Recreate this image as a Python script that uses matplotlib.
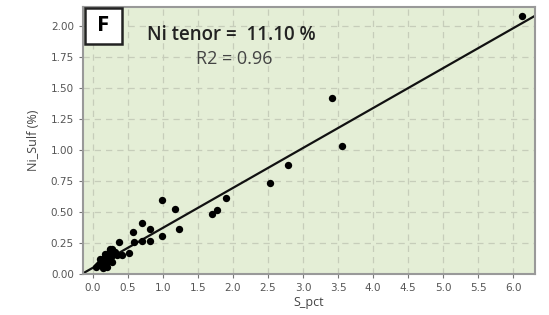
import matplotlib.pyplot as plt
import numpy as np
from matplotlib.patches import Rectangle

# S_pct vs Ni_Sulf (%)
s_pct = [0.05, 0.08, 0.10, 0.12, 0.13, 0.15, 0.16, 0.18, 0.19, 0.20, 0.22,
         0.23, 0.25, 0.26, 0.28, 0.30, 0.32, 0.34, 0.14, 0.21, 0.17, 0.27,
         0.10, 0.24, 0.38, 0.42, 0.52, 0.58, 0.585, 0.70, 0.70, 0.82, 0.82,
         0.99, 0.99, 1.17, 1.23, 1.70, 1.77, 1.90, 2.53, 2.79, 3.41, 3.55,
         6.12]
ni_sulf = [0.06, 0.07, 0.09, 0.08, 0.11, 0.10, 0.13, 0.12, 0.08, 0.15, 0.11,
           0.17, 0.19, 0.14, 0.20, 0.17, 0.18, 0.15, 0.05, 0.06, 0.16, 0.10,
           0.12, 0.20, 0.26, 0.15, 0.17, 0.34, 0.26, 0.41, 0.265, 0.366, 0.265,
           0.60, 0.31, 0.527, 0.366, 0.487, 0.513, 0.61, 0.735, 0.88, 1.42, 1.03,
           2.08]

fit_intercept = 0.05
fit_slope = 0.3215
panel = "F"
tenor_text = "Ni tenor =  11.10 %"
r2_text = "R2 = 0.96"

fig = plt.figure(figsize=(5.49, 3.15), dpi=100)
ax = fig.add_axes([0.151, 0.130, 0.8235, 0.848])
ax.set_facecolor("#e4eed6")

ax.scatter(s_pct, ni_sulf, s=28, color="black", zorder=3, linewidths=0)
xs = np.array([-0.14, 6.31])
ax.plot(xs, fit_intercept + fit_slope * xs, color="#111111", lw=1.6, zorder=2)

ax.set_xlim(-0.14, 6.31)
ax.set_ylim(0, 2.15)
ax.set_xticks(np.arange(0, 6.01, 0.5))
ax.set_yticks(np.arange(0, 2.01, 0.25))
ax.xaxis.set_major_formatter(plt.FormatStrFormatter("%.1f"))
ax.yaxis.set_major_formatter(plt.FormatStrFormatter("%.2f"))
ax.grid(True, ls=(0, (5, 4)), color="#c6cdba", lw=0.9)
ax.set_axisbelow(True)
ax.tick_params(colors="#777777", labelcolor="#555555", labelsize=7.5,
               length=3, width=0.8)
for sp in ax.spines.values():
    sp.set_color("#999999")
    sp.set_linewidth(1.5)

ax.set_xlabel("S_pct", fontsize=9, color="#444444", labelpad=2,
              family="Open Sans")
ax.set_ylabel("Ni_Sulf (%)", fontsize=9, color="#444444", labelpad=8,
              family="Open Sans")

# panel letter box in the top-left corner
ax.add_patch(Rectangle((0.004, 0.862), 0.083, 0.134, transform=ax.transAxes,
                       fc="white", ec="#222222", lw=1.8, zorder=4))
ax.text(0.0455, 0.929, panel, transform=ax.transAxes, fontsize=16,
        fontweight="bold", ha="center", va="center", family="Open Sans",
        zorder=5)
ax.text(0.142, 0.875, tenor_text, transform=ax.transAxes, fontsize=13.5,
        fontweight="semibold", color="#222222", family="Open Sans")
ax.text(0.25, 0.785, r2_text, transform=ax.transAxes, fontsize=13,
        color="#444444", family="Open Sans")

fig.savefig("out.png", dpi=100)
